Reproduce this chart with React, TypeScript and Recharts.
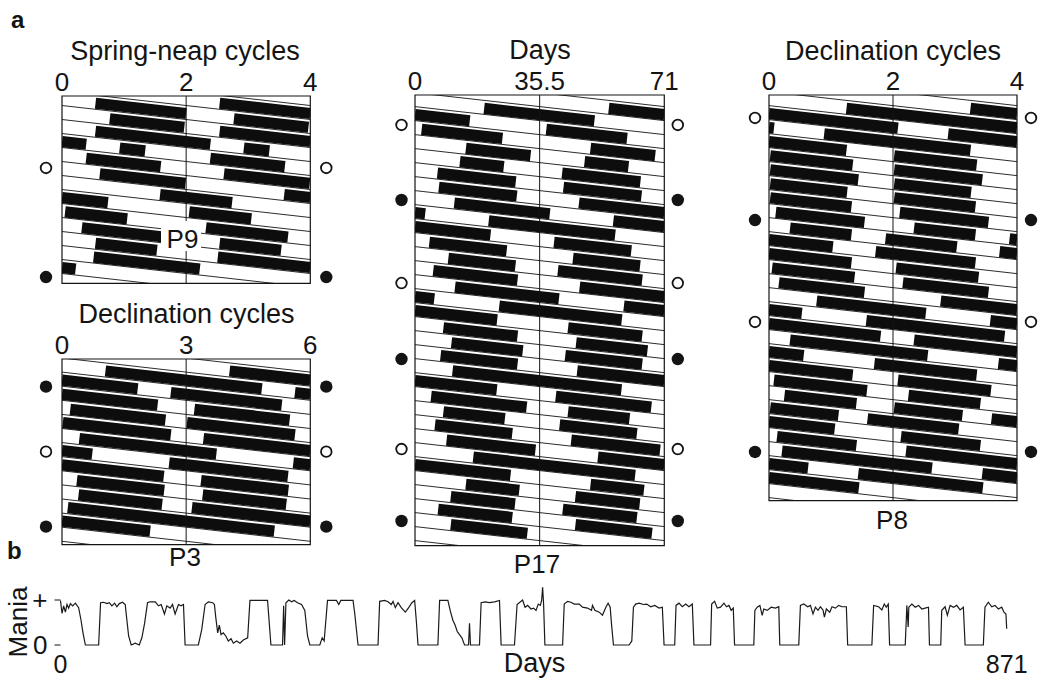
import React from 'react';
import { LineChart, Line, XAxis, YAxis, ReferenceLine, ReferenceArea } from 'recharts';

const FONT = '"Liberation Sans", Arial, Helvetica, sans-serif';
const INK = '#141414';

// ---------- data ----------
// Episodes are [onset, offset] in the panel's own unit, counted from the first row.
// One row = one period (half the axis); rows are double plotted.
const p9Ticks = [0, 2, 4];
const p9Episodes: [number, number][] = [
  [0.54, 2.0], [2.77, 3.97], [4.54, 6.39], [6.93, 7.34], [8.39, 9.59], [10.61, 11.99],
  [13.58, 14.74], [16.05, 17.05], [18.32, 19.64], [20.54, 21.53], [22.51, 24.22],
];
const p9Moons = [
  { row: 5.14, filled: false },
  { row: 12.93, filled: true },
];

const p3Ticks = [0, 3, 6];
const p3Episodes: [number, number][] = [
  [1.05, 4.83], [5.63, 8.31], [9.2, 11.5], [12.02, 14.63], [15.42, 18.73], [20.59, 23.46],
  [24.36, 26.47], [27.4, 29.42], [30.14, 35.13],
];
const p3Moons = [
  { row: 1.96, filled: true },
  { row: 6.57, filled: false },
  { row: 11.89, filled: true },
];

const p17Ticks = [0, 35.5, 71];
const p17Episodes: [number, number][] = [
  [19.7, 51.1], [72.9, 95.9], [121, 139.4], [154.8, 167.3], [183.9, 206.2], [219.8, 242],
  [259.7, 286.9], [305, 341], [359.1, 381.1], [400, 419.1], [431.2, 455.2], [472.9, 502.5],
  [521, 555.9], [576.1, 597.2], [613.9, 634.2], [646.3, 668.2], [685.2, 733.3], [750.1, 777.3],
  [789.1, 806.6], [822.2, 844.2], [861, 886.3], [904.1, 950.2], [973, 988.2], [1004.2, 1022.5],
  [1036.1, 1057.2], [1075.2, 1097],
];
const p17Moons = [
  { row: 2.14, filled: false },
  { row: 7.5, filled: true },
  { row: 13.43, filled: false },
  { row: 18.86, filled: true },
  { row: 25.29, filled: false },
  { row: 30.43, filled: true },
];

const p8Ticks = [0, 2, 4];
const p8Episodes: [number, number][] = [
  [1.25, 4.08], [4.89, 7.25], [8.02, 9.35], [10.02, 11.44], [12.02, 13.26], [14.02, 15.33],
  [16.11, 17.54], [18.34, 19.33], [19.88, 21.03], [21.72, 23.33], [24.05, 25.38], [26.16, 27.54],
  [28.77, 30.53], [31.57, 33.8], [34.34, 36.56], [37.7, 39.35], [40.08, 41.58], [42.25, 43.41],
  [44.02, 45.12], [45.59, 47.06], [48.13, 49.41], [50.21, 52.63], [53.44, 55.45],
];
const p8Moons = [
  { row: 1.64, filled: false },
  { row: 8.93, filled: true },
  { row: 16.21, filled: false },
  { row: 25.5, filled: true },
];

// panel b: mania level over 871 days, [day, level]
const maniaDayTicks = [0, 871];
const maniaLevelTicks = [0, 1];
const maniaLevelLabels = ['0', '+'];
const maniaLevels: [number, number][] = [
  [0, 0.99], [1.4, 0.7], [2.9, 0.87], [4.5, 0.73], [6.0, 0.9], [7.5, 0.82], [9.1, 0.92], [11.2, 0.87],
  [13.7, 0.93], [16.7, 0.83], [18.9, 0.55], [20.7, 0.27], [22.9, 0], [35.1, 0],
  [36.9, 0.94], [39.7, 0.95], [42.8, 0.92], [44.9, 0.94], [47.3, 0.87], [49.8, 0.93], [51.9, 0.85],
  [54.1, 0.92], [57.1, 0.95], [59.6, 0.9], [60.5, 0.69], [62.7, 0.2], [65.1, 0], [68.8, 0.04], [72.5, 0],
  [74.9, 0.16], [77.4, 0.48], [80.1, 0.94], [82.6, 0.96], [87.2, 0.96], [90.2, 0.87], [92.7, 0.9],
  [95.7, 0.69], [97.9, 0.87], [100.9, 0.82], [103.1, 0.9], [105.5, 0.69], [108.6, 0.9], [111.0, 0.87],
  [113.2, 0.9], [114.7, 0], [126.9, 0],
  [130.0, 0.34], [133.1, 0.9], [136.1, 0.96], [140.1, 0.94], [141.7, 0.9], [142.9, 0.62], [144.7, 0.27],
  [146.2, 0.44], [147.8, 0.23], [149.9, 0.27], [152.1, 0.2], [154.5, 0.09], [157.0, 0.14], [159.1, 0.04],
  [162.2, 0.09], [165.2, 0.04], [168.3, 0.11], [172.3, 0.16], [174.4, 0.99], [190.6, 0.99], [193.7, 0],
  [204.4, 0], [205.4, 0.87], [206.3, 0], [207.5, 0.94], [210.2, 1.0], [212.7, 0.96], [215.1, 0.99],
  [218.2, 0.94], [221.9, 0.9], [224.9, 0.77], [227.4, 0.2], [229.5, 0], [238.7, 0], [240.9, 0.16],
  [242.7, 0.09], [245.8, 0.99], [254.0, 0.99], [256.2, 0.9], [258.0, 0.99], [269.3, 0.99], [270.9, 0.69],
  [273.9, 0], [292.3, 0],
  [293.8, 0.97], [298.4, 0.99], [301.5, 0.96], [304.5, 0.9], [306.1, 0.97], [308.2, 0.83], [310.7, 0.94],
  [313.7, 0.83], [317.4, 0.73], [320.5, 0.83], [323.5, 0.94], [326.0, 0.99], [327.5, 0.55], [329.1, 0],
  [347.4, 0], [349.0, 0.99], [356.6, 0.99], [358.8, 0.76], [361.2, 0.55], [363.3, 0.44], [365.2, 0.3],
  [367.3, 0.23], [369.5, 0.16], [371.9, 0], [375.6, 0], [376.5, 0.48], [377.4, 0], [385.7, 0],
  [387.2, 0.94], [390.9, 0.96], [394.9, 0.94], [399.5, 0.96], [404.1, 0.99], [405.6, 0], [417.9, 0],
  [420.3, 0.9], [425.4, 1.0], [427.6, 0.84], [430.0, 0.88], [433.1, 0.8], [435.5, 0.82], [437.7, 0.77],
  [439.8, 0.91], [441.7, 0.88], [442.9, 0.99], [443.8, 1.28], [444.7, 0.91], [445.9, 0], [462.2, 0],
  [463.7, 0.91], [466.8, 0.97], [469.8, 0.95], [472.9, 0.91], [477.5, 0.91], [480.5, 0.84], [485.1, 0.82],
  [488.8, 0.77], [489.7, 0.88], [491.9, 0.77], [495.9, 0.73], [498.9, 0.66], [502.0, 0.84], [504.1, 0.93],
  [506.0, 0.84], [507.2, 0.47], [509.0, 0], [523.4, 0], [525.9, 0.09],
  [527.4, 0.84], [529.5, 0.91], [532.6, 0.93], [536.6, 0.9], [539.6, 0.91], [543.3, 0.85], [547.0, 0.88],
  [551.0, 0.82], [554.0, 0.84], [555.6, 0], [565.4, 0],
  [566.6, 0.88], [569.3, 0.93], [572.4, 0.85], [575.5, 0.91], [578.5, 0.85], [581.6, 0.91], [583.1, 0],
  [598.4, 0], [599.4, 0.91], [602.1, 0.97], [604.6, 0.82], [607.6, 0.84], [610.7, 0.93], [613.1, 0.85],
  [615.3, 0.88], [617.4, 0.77], [619.3, 0.82], [620.5, 0], [638.2, 0],
  [639.2, 0.77], [641.3, 0.84], [643.8, 0.88], [645.9, 0.66], [647.4, 0.8], [650.5, 0.77], [654.2, 0.84],
  [658.1, 0.82], [661.2, 0.85], [662.1, 0], [679.6, 0],
  [681.1, 0.88], [684.2, 0.91], [687.8, 0.85], [690.3, 0.88], [692.7, 0.69], [694.9, 0.84], [697.3, 0.77],
  [699.5, 0.85], [701.9, 0.78], [703.2, 0.62], [705.0, 0.8], [708.1, 0.73], [710.2, 0.85], [713.3, 0.82],
  [716.3, 0.88], [719.4, 0.85], [723.4, 0.85], [724.6, 0], [746.9, 0],
  [748.5, 0.88], [753.1, 0.85], [756.1, 0.78], [758.3, 0.91], [760.1, 0.84], [762.0, 0.91], [763.2, 0],
  [777.6, 0], [779.1, 0.88], [780.3, 0.4], [780.9, 0.84], [783.7, 0.91], [786.8, 0.84], [789.8, 0.88],
  [792.9, 0.8], [795.9, 0.82], [799.0, 0.84], [799.9, 0], [810.3, 0],
  [811.2, 0.77], [814.3, 0.85], [816.4, 0.66], [818.9, 0.88], [822.0, 0.84], [825.0, 0.88], [828.1, 0.78],
  [831.1, 0.84], [832.7, 0], [849.5, 0],
  [851.0, 0.84], [854.1, 0.95], [857.2, 0.85], [860.2, 0.88], [863.3, 0.8], [866.4, 0.84], [868.5, 0.73],
  [870.3, 0.69], [871, 0.36],
];

// ---------- layout ----------
type Layout = { left: number; top: number; width: number; height: number; rowPx: number; off: number; moonGap: number };
const layoutP9: Layout = { left: 61.7, top: 96, width: 248.3, height: 187.3, rowPx: 14, off: -0.15, moonGap: 16 };
const layoutP3: Layout = { left: 61.7, top: 359.3, width: 248.3, height: 185.7, rowPx: 14.1, off: 0.1, moonGap: 16 };
const layoutP17: Layout = { left: 415, top: 95, width: 249.3, height: 450.7, rowPx: 14, off: 0.0, moonGap: 13.5 };
const layoutP8: Layout = { left: 769.3, top: 95, width: 248, height: 405.7, rowPx: 14, off: -0.07, moonGap: 14 };

const THICK = 0.8; // bar height, in rows
const GAP = 0.03; // space between bar and its baseline, in rows
const PAD = 34;
const HEAD = 36;

type Pt = { x: number; y: number };

function Actogram({ episodes, ticks, moons, layout }: {
  episodes: [number, number][];
  ticks: number[];
  moons: { row: number; filled: boolean }[];
  layout: Layout;
}) {
  const { left, top, width, height, rowPx, off, moonGap } = layout;
  const half = ticks[1];
  const span = ticks[2];
  const rows = height / rowPx;
  const lastRow = Math.ceil(rows) + 2;

  const baseLines: Pt[][] = [];
  const bars: Pt[][] = [];
  for (let r = -2; r <= lastRow; r++) {
    const y0 = r + off + THICK + GAP;
    baseLines.push([{ x: 0, y: y0 }, { x: span, y: y0 + span / half }]);
    const start = r * half;
    for (const [on, end] of episodes) {
      const s = Math.max(on, start);
      const e = Math.min(end, start + span);
      if (e > s) {
        bars.push([
          { x: s - start, y: s / half + off + THICK / 2 },
          { x: e - start, y: e / half + off + THICK / 2 },
        ]);
      }
    }
  }

  const moonTick = (side: 'l' | 'r') => (props: any) => {
    const { x, y, payload } = props;
    const m = moons.find((mm) => Math.abs(mm.row - payload.value) < 1e-6);
    const filled = m ? m.filled : false;
    const cx = side === 'l' ? x - moonGap : x + moonGap;
    return (
      <circle cx={cx} cy={y} r={filled ? 6.2 : 5.3} fill={filled ? INK : '#fff'}
        stroke={INK} strokeWidth={filled ? 0 : 1.8} />
    );
  };

  return (
    <div style={{ position: 'absolute', left: left - PAD, top: top - HEAD }}>
      <LineChart width={width + 2 * PAD} height={height + HEAD + 2} margin={{ top: 0, right: 0, bottom: 2, left: 0 }}>
        <XAxis type="number" dataKey="x" domain={[0, span]} ticks={ticks} interval={0} orientation="top"
          height={HEAD} axisLine={false} tickLine={false} tickSize={0} tickMargin={5} allowDataOverflow
          tick={{ fontSize: 26, fill: INK, fontFamily: FONT }} />
        <YAxis yAxisId="l" orientation="left" type="number" domain={[0, rows]} reversed allowDataOverflow
          width={PAD} ticks={moons.map((m) => m.row)} interval={0} axisLine={false} tickLine={false}
          tickSize={0} tickMargin={0} tick={moonTick('l')} />
        <YAxis yAxisId="r" orientation="right" type="number" domain={[0, rows]} reversed allowDataOverflow
          width={PAD} ticks={moons.map((m) => m.row)} interval={0} axisLine={false} tickLine={false}
          tickSize={0} tickMargin={0} tick={moonTick('r')} />
        {baseLines.map((d, i) => (
          <Line key={'base' + i} yAxisId="l" data={d} dataKey="y" type="linear" stroke={INK} strokeWidth={0.9}
            dot={false} activeDot={false} isAnimationActive={false} />
        ))}
        {bars.map((d, i) => (
          <Line key={'bar' + i} yAxisId="l" data={d} dataKey="y" type="linear" stroke="#0d0d0d"
            strokeWidth={THICK * rowPx} dot={false} activeDot={false} isAnimationActive={false} />
        ))}
        <ReferenceLine yAxisId="l" x={half} stroke={INK} strokeWidth={1} />
        <ReferenceArea yAxisId="l" x1={0} x2={span} y1={0} y2={rows} fill="none" fillOpacity={0}
          stroke={INK} strokeWidth={1.2} />
      </LineChart>
    </div>
  );
}

function ManiaTrace() {
  const data = maniaLevels.map(([day, level]) => ({ day, level }));
  return (
    <div style={{ position: 'absolute', left: 0, top: 570 }}>
      <LineChart width={1050} height={116} data={data} margin={{ top: 16.5, right: 43.3, bottom: 11, left: 0 }}>
        <XAxis type="number" dataKey="day" domain={[0, 871]} ticks={maniaDayTicks} interval={0} height={30}
          axisLine={false} tickLine={false} tickSize={0} tickMargin={10}
          tick={{ fontSize: 25, fill: INK, fontFamily: FONT }} />
        <YAxis type="number" domain={[0, 1.3]} ticks={maniaLevelTicks} interval={0} width={60.5}
          axisLine={false} tickSize={6} tickMargin={7} tickLine={{ stroke: INK }}
          tickFormatter={(v: number) => maniaLevelLabels[maniaLevelTicks.indexOf(v)]}
          tick={{ fontSize: 26, fill: INK, fontFamily: FONT }} />
        <Line dataKey="level" type="linear" stroke="#1a1a1a" strokeWidth={1.2} dot={false}
          activeDot={false} isAnimationActive={false} />
      </LineChart>
    </div>
  );
}

export default function App() {
  const t = { fontFamily: FONT, fill: INK };
  return (
    <div style={{ position: 'absolute', left: 0, top: 0, width: 1050, height: 686, background: '#fff', overflow: 'hidden' }}>
      <Actogram episodes={p9Episodes} ticks={p9Ticks} moons={p9Moons} layout={layoutP9} />
      <Actogram episodes={p3Episodes} ticks={p3Ticks} moons={p3Moons} layout={layoutP3} />
      <Actogram episodes={p17Episodes} ticks={p17Ticks} moons={p17Moons} layout={layoutP17} />
      <Actogram episodes={p8Episodes} ticks={p8Ticks} moons={p8Moons} layout={layoutP8} />
      <ManiaTrace />
      <svg width={1050} height={686} style={{ position: 'absolute', left: 0, top: 0, pointerEvents: 'none' }}>
        <text x={11} y={28} fontSize={24} fontWeight="bold" {...t}>a</text>
        <text x={7} y={559} fontSize={24} fontWeight="bold" {...t}>b</text>
        <text x={185} y={60} fontSize={27} textAnchor="middle" {...t}>Spring-neap cycles</text>
        <text x={540} y={58.5} fontSize={27} textAnchor="middle" {...t}>Days</text>
        <text x={893} y={60} fontSize={27} textAnchor="middle" {...t}>Declination cycles</text>
        <text x={186.5} y={323} fontSize={27} textAnchor="middle" {...t}>Declination cycles</text>
        <rect x={161} y={221} width={40} height={30} fill="#fff" />
        <text x={182.5} y={248} fontSize={26} textAnchor="middle" {...t}>P9</text>
        <text x={185} y={566} fontSize={26} textAnchor="middle" {...t}>P3</text>
        <text x={537} y={573} fontSize={26} textAnchor="middle" {...t}>P17</text>
        <text x={892} y={529} fontSize={26} textAnchor="middle" {...t}>P8</text>
        <text transform="translate(27,622) rotate(-90)" fontSize={26} textAnchor="middle" {...t}>Mania</text>
        <text x={534.5} y={672} fontSize={27} textAnchor="middle" {...t}>Days</text>
      </svg>
    </div>
  );
}
